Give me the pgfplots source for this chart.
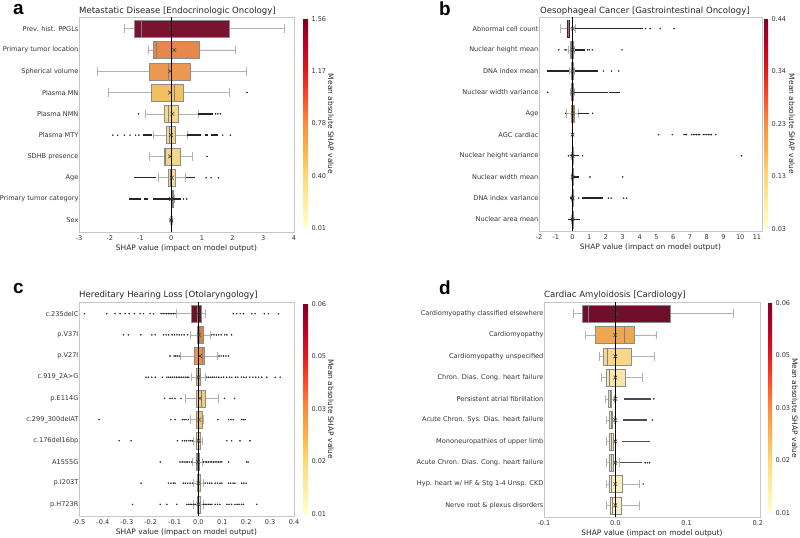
\documentclass[border=0pt]{standalone}
\usepackage{fontspec}
\setmainfont{DejaVu Sans}
\newfontfamily\letterfont{Liberation Sans}
\usepackage{pgfplots}
\pgfplotsset{compat=1.18}
\usepgfplotslibrary{statistics}

\definecolor{a1}{HTML}{7B1230}\definecolor{a2}{HTML}{E8874B}\definecolor{a3}{HTML}{EC9752}
\definecolor{a4}{HTML}{F1C063}\definecolor{a5}{HTML}{F5D88A}\definecolor{a6}{HTML}{F4D68A}
\definecolor{a7}{HTML}{F4D78C}\definecolor{a8}{HTML}{F5DA90}\definecolor{a9}{HTML}{F8E6A8}
\definecolor{a10}{HTML}{F9EDB8}
\definecolor{b1}{HTML}{7E2036}\definecolor{b2}{HTML}{D8CFB0}\definecolor{b3}{HTML}{DCD3B5}
\definecolor{b4}{HTML}{E2D8B8}\definecolor{b5}{HTML}{EBC766}\definecolor{b6}{HTML}{F5EEC8}
\definecolor{b7}{HTML}{F3E8C0}\definecolor{b8}{HTML}{F3E8C0}\definecolor{b9}{HTML}{F3EAC6}
\definecolor{b10}{HTML}{EFE4BC}
\definecolor{c1}{HTML}{6F1029}\definecolor{c2}{HTML}{E27E3D}\definecolor{c3}{HTML}{EC924B}
\definecolor{c4}{HTML}{E9B65C}\definecolor{c5}{HTML}{F2CD7C}\definecolor{c6}{HTML}{EEC466}
\definecolor{c7}{HTML}{EDD594}\definecolor{c8}{HTML}{E0D29C}\definecolor{c9}{HTML}{E6D8A2}
\definecolor{c10}{HTML}{EEE2B0}
\definecolor{d1}{HTML}{700F2B}\definecolor{d2}{HTML}{ECA850}\definecolor{d3}{HTML}{F6D78C}
\definecolor{d4}{HTML}{F8E6AC}\definecolor{d5}{HTML}{EEE3B6}\definecolor{d9}{HTML}{F8EFC2}
\definecolor{d10}{HTML}{F8F0C4}

\newcommand{\tickfont}{\fontsize{6.6}{7}\selectfont}
\newcommand{\labfont}{\fontsize{7.5}{8}\selectfont}

\pgfplotsset{
  colormap={ylorrd}{rgb255=(255,255,204) rgb255=(255,237,160) rgb255=(254,217,118) rgb255=(254,178,76) rgb255=(253,141,60) rgb255=(252,78,42) rgb255=(227,26,28) rgb255=(189,0,38) rgb255=(128,0,38)},
  shap/.style={
    scale only axis, anchor=south west,
    y dir=reverse, ymin=0.45, ymax=10.55, ytick={1,2,...,10},
    axis line style={draw=black!22, line width=0.7bp},
    tick style={draw=none},
    tick label style={font=\tickfont, text=black!80},
    yticklabel style={inner xsep=0.4bp},
    xlabel={SHAP value (impact on model output)},
    xlabel style={font=\labfont, text=black!85, yshift=3bp},
    boxplot/draw direction=x,
    boxplot/box extend=0.8,
    boxplot/whisker extend=0.4,
    boxplot/every whisker/.style={draw=black!30, line width=0.5bp},
    boxplot/every median/.style={draw=black!50, line width=0.6bp},
    boxplot/every box/.style={draw=black!45, line width=0.5bp},
    colorbar, colormap name=ylorrd, point meta min=0, point meta max=1,
  },
  cb/.style={scale only axis, anchor=south west,
    ytick={0,0.25,0.5,0.75,1},
    axis line style={draw=none}, tick style={draw=none},
    yticklabel style={font=\tickfont, text=black!80}},
  bx/.style={fill=#1},
  od/.style={only marks, mark=*, mark size=0.55bp, black!85, mark options={draw=none}},
  seg/.style={black!85, line width=1.4bp},
  mn/.style={only marks, mark=x, mark size=2.6bp, mark options={draw=black!75, line width=0.6bp}},
  zl/.style={black, line width=0.8bp},
}

\begin{document}
\begin{tikzpicture}
\useasboundingbox (0,0) rectangle (800bp,538bp);

%% ---------------- Panel a ----------------
\begin{axis}[shap, at={(79bp,306bp)}, width=215bp, height=215bp,
  xmin=-3, xmax=4, xtick={-3,...,4}, xticklabels={-3,-2,-1,0,1,2,3,4},
  yticklabels={Prev. hist. PPGLs,Primary tumor location,Spherical volume,Plasma MN,Plasma NMN,Plasma MTY,SDHB presence,Age,Primary tumor category,Sex},
  colorbar style={cb, width=5bp, height=209bp, at={(parent axis.south east)}, xshift=0.5bp, yshift=4bp,
    yticklabels={0.01,0.40,0.78,1.17,1.56}}]
\addplot[bx=a1, boxplot prepared={draw position=1, lower whisker=-1.52, lower quartile=-1.20, median=-0.97, upper quartile=1.88, upper whisker=3.69}] coordinates {};
\addplot[bx=a2, boxplot prepared={draw position=2, lower whisker=-0.76, lower quartile=-0.59, median=-0.49, upper quartile=0.93, upper whisker=2.10}] coordinates {};
\addplot[bx=a3, boxplot prepared={draw position=3, lower whisker=-2.40, lower quartile=-0.70, median=-0.09, upper quartile=0.63, upper whisker=2.44}] coordinates {};
\addplot[bx=a4, boxplot prepared={draw position=4, lower whisker=-2.05, lower quartile=-0.64, median=0.11, upper quartile=0.39, upper whisker=1.90}] coordinates {};
\addplot[bx=a5, boxplot prepared={draw position=5, lower whisker=-0.85, lower quartile=-0.21, median=-0.09, upper quartile=0.23, upper whisker=0.89}] coordinates {};
\addplot[bx=a6, boxplot prepared={draw position=6, lower whisker=-0.58, lower quartile=-0.16, median=-0.05, upper quartile=0.13, upper whisker=0.51}] coordinates {};
\addplot[bx=a7, boxplot prepared={draw position=7, lower whisker=-0.72, lower quartile=-0.23, median=-0.18, upper quartile=0.30, upper whisker=0.68}] coordinates {};
\addplot[bx=a8, boxplot prepared={draw position=8, lower whisker=-0.43, lower quartile=-0.10, median=-0.04, upper quartile=0.14, upper whisker=0.46}] coordinates {};
\addplot[bx=a9, boxplot prepared={draw position=9, lower whisker=0.00, lower quartile=0.03, median=0.05, upper quartile=0.07, upper whisker=0.09}] coordinates {};
\addplot[bx=a10, boxplot prepared={draw position=10, lower whisker=-0.02, lower quartile=-0.01, median=0.00, upper quartile=0.01, upper whisker=0.02}] coordinates {};
\addplot[seg] coordinates {(0.89,5) (1.35,5)};
\addplot[seg] coordinates {(-0.92,6) (-0.62,6)};
\addplot[seg] coordinates {(0.51,6) (0.98,6)};
\addplot[seg] coordinates {(1.09,6) (1.20,6)};
\addplot[seg] coordinates {(1.30,6) (1.52,6)};
\addplot[seg] coordinates {(-1.20,8) (-0.49,8)};
\addplot[seg] coordinates {(0.49,8) (0.78,8)};
\addplot[seg] coordinates {(-1.36,9) (-0.98,9)};
\addplot[seg] coordinates {(-0.87,9) (-0.74,9)};
\addplot[seg] coordinates {(-0.60,9) (0.33,9)};
\addplot[od] coordinates {(2.47,4) (-1.06,5) (1.45,5) (1.52,5) (1.60,5) (-1.90,6) (-1.74,6) (-1.52,6) (-1.34,6) (-1.16,6) (-1.05,6) (1.68,6) (1.93,6) (1.17,7) (1.14,8) (1.30,8) (1.54,8) (0.40,9) (0.51,9) (-0.03,10) (0.03,10)};
\addplot[mn] coordinates {(-0.03,1) (0.10,2) (-0.03,3) (-0.03,4) (0.04,5) (0.00,6) (-0.03,7) (0.02,8) (0.00,9) (0.00,10)};
\addplot[zl] coordinates {(0,0.45) (0,10.55)};
\end{axis}

%% ---------------- Panel b ----------------
\begin{axis}[shap, at={(539bp,307bp)}, width=223bp, height=214bp,
  xmin=-2, xmax=11.3, xtick={-2,...,11}, xticklabels={-2,-1,0,1,2,3,4,5,6,7,8,9,10,11},
  yticklabels={Abnormal cell count,Nuclear height mean,DNA index mean,Nuclear width variance,Age,AGC cardiac,Nuclear height variance,Nuclear width mean,DNA index variance,Nuclear area mean},
  colorbar style={cb, width=4bp, height=210bp, at={(parent axis.south east)}, xshift=-6.5bp, yshift=2bp,
    yticklabels={0.03,0.13,0.23,0.34,0.44}}]
\addplot[bx=b1, boxplot/every box/.style={draw=b1!70!black, line width=0.5bp}, boxplot prepared={draw position=1, lower whisker=-0.74, lower quartile=-0.32, median=-0.25, upper quartile=-0.18, upper whisker=0.15}] coordinates {};
\addplot[bx=b2, boxplot prepared={draw position=2, lower whisker=-0.28, lower quartile=-0.12, median=-0.05, upper quartile=0.02, upper whisker=0.12}] coordinates {};
\addplot[bx=b3, boxplot prepared={draw position=3, lower whisker=-0.20, lower quartile=-0.08, median=-0.03, upper quartile=0.03, upper whisker=0.12}] coordinates {};
\addplot[bx=b4, boxplot prepared={draw position=4, lower whisker=-0.12, lower quartile=-0.06, median=0.00, upper quartile=0.04, upper whisker=0.10}] coordinates {};
\addplot[bx=b5, boxplot/every box/.style={draw=b5!70!black, line width=0.5bp}, boxplot prepared={draw position=5, lower whisker=-0.36, lower quartile=-0.05, median=0.02, upper quartile=0.09, upper whisker=0.34}] coordinates {};
\addplot[bx=b6, boxplot prepared={draw position=6, lower whisker=-0.01, lower quartile=0.00, median=0.00, upper quartile=0.00, upper whisker=0.01}] coordinates {};
\addplot[bx=b7, boxplot prepared={draw position=7, lower whisker=-0.05, lower quartile=-0.02, median=0.00, upper quartile=0.02, upper whisker=0.05}] coordinates {};
\addplot[bx=b8, boxplot prepared={draw position=8, lower whisker=-0.05, lower quartile=-0.02, median=0.00, upper quartile=0.02, upper whisker=0.05}] coordinates {};
\addplot[bx=b9, boxplot prepared={draw position=9, lower whisker=-0.05, lower quartile=-0.02, median=0.00, upper quartile=0.02, upper whisker=0.05}] coordinates {};
\addplot[bx=b10, boxplot prepared={draw position=10, lower whisker=-0.05, lower quartile=-0.02, median=0.00, upper quartile=0.02, upper whisker=0.05}] coordinates {};
\addplot[seg] coordinates {(0.15,1) (4.20,1)};
\addplot[seg] coordinates {(0.12,2) (0.76,2)};
\addplot[seg] coordinates {(-1.55,3) (-0.20,3)};
\addplot[seg] coordinates {(0.12,3) (1.50,3)};
\addplot[seg] coordinates {(0.10,4) (2.12,4)};
\addplot[seg] coordinates {(2.20,4) (2.85,4)};
\addplot[seg] coordinates {(0.34,5) (0.96,5)};
\addplot[seg] coordinates {(-0.15,7) (0.40,7)};
\addplot[seg] coordinates {(-0.05,8) (0.40,8)};
\addplot[seg] coordinates {(-0.14,9) (0.10,9)};
\addplot[seg] coordinates {(0.56,9) (1.80,9)};
\addplot[seg] coordinates {(-0.30,10) (0.45,10)};
\addplot[od] coordinates {(4.35,1) (4.63,1) (5.23,1) (6.05,1) (-0.82,2) (-0.45,2) (-0.38,2) (0.90,2) (1.00,2) (1.18,2) (2.95,2) (1.84,3) (2.33,3) (2.75,3) (-1.48,4) (-0.42,5) (1.20,5)
 (5.13,6) (5.95,6) (6.65,6) (6.72,6) (6.80,6) (7.10,6) (7.20,6) (7.30,6) (7.40,6) (7.50,6) (7.58,6) (7.80,6) (7.90,6) (8.00,6) (8.10,6) (8.20,6) (8.28,6) (8.54,6)
 (-0.24,7) (0.60,7) (10.08,7) (1.04,8) (2.99,8) (0.36,9) (2.14,9) (2.30,9) (3.05,9) (3.23,9)};
\addplot[mn] coordinates {(0.02,1) (0.00,2) (0.00,3) (0.00,4) (0.02,5) (0.00,6) (0.00,7) (0.00,8) (0.00,9) (0.00,10)};
\addplot[zl] coordinates {(0,0.45) (0,10.55)};
\end{axis}

%% ---------------- Panel c ----------------
\begin{axis}[shap, at={(79bp,22bp)}, width=215bp, height=214bp,
  xmin=-0.5, xmax=0.4, xtick={-0.5,-0.4,-0.3,-0.2,-0.1,0,0.1,0.2,0.3,0.4},
  xticklabels={-0.5,-0.4,-0.3,-0.2,-0.1,0.0,0.1,0.2,0.3,0.4},
  yticklabels={c.235delC,p.V37I,p.V27I,c.919\_2A>G,p.E114G,c.299\_300delAT,c.176del16bp,A1555G,p.I203T,p.H723R},
  colorbar style={cb, width=5bp, height=210bp, at={(parent axis.south east)}, xshift=0.5bp, yshift=2bp,
    yticklabels={0.01,0.02,0.03,0.05,0.06}}]
\addplot[bx=c1, boxplot prepared={draw position=1, lower whisker=-0.091, lower quartile=-0.032, median=-0.005, upper quartile=0.010, upper whisker=0.028}] coordinates {};
\addplot[bx=c2, boxplot prepared={draw position=2, lower whisker=-0.035, lower quartile=-0.004, median=0.003, upper quartile=0.020, upper whisker=0.049}] coordinates {};
\addplot[bx=c3, boxplot prepared={draw position=3, lower whisker=-0.075, lower quartile=-0.017, median=0.018, upper quartile=0.026, upper whisker=0.077}] coordinates {};
\addplot[bx=c4, boxplot prepared={draw position=4, lower whisker=-0.031, lower quartile=-0.010, median=0.000, upper quartile=0.007, upper whisker=0.028}] coordinates {};
\addplot[bx=c5, boxplot prepared={draw position=5, lower whisker=-0.056, lower quartile=-0.011, median=0.010, upper quartile=0.028, upper whisker=0.081}] coordinates {};
\addplot[bx=c6, boxplot prepared={draw position=6, lower whisker=-0.035, lower quartile=-0.008, median=0.000, upper quartile=0.014, upper whisker=0.020}] coordinates {};
\addplot[bx=c7, boxplot prepared={draw position=7, lower whisker=-0.021, lower quartile=-0.008, median=0.000, upper quartile=0.008, upper whisker=0.014}] coordinates {};
\addplot[bx=c8, boxplot prepared={draw position=8, lower whisker=-0.024, lower quartile=-0.010, median=-0.003, upper quartile=0.003, upper whisker=0.017}] coordinates {};
\addplot[bx=c9, boxplot prepared={draw position=9, lower whisker=-0.021, lower quartile=-0.006, median=0.000, upper quartile=0.006, upper whisker=0.021}] coordinates {};
\addplot[bx=c10, boxplot prepared={draw position=10, lower whisker=-0.021, lower quartile=-0.004, median=0.000, upper quartile=0.006, upper whisker=0.021}] coordinates {};
\addplot[od] coordinates {
 (-0.477,1) (-0.384,1) (-0.349,1) (-0.328,1) (-0.307,1) (-0.290,1) (-0.268,1) (-0.244,1) (-0.230,1) (-0.202,1) (-0.188,1)
 (-0.156,1) (-0.148,1) (-0.140,1) (-0.133,1) (-0.126,1) (-0.119,1) (-0.112,1) (-0.105,1) (-0.098,1)
 (0.146,1) (0.160,1) (0.175,1) (0.188,1) (0.223,1) (0.237,1) (0.276,1) (0.293,1) (0.335,1)
 (-0.314,2) (-0.293,2) (-0.241,2) (-0.195,2) (-0.181,2) (-0.146,2) (-0.135,2) (-0.125,2) (-0.110,2) (-0.100,2) (-0.090,2) (-0.080,2) (-0.070,2) (-0.060,2) (-0.045,2)
 (0.056,2) (0.065,2) (0.075,2) (0.085,2) (0.095,2) (0.110,2) (0.119,2) (0.139,2)
 (-0.119,3) (-0.102,3) (-0.095,3) (-0.088,3) (-0.080,3) (0.086,3) (0.095,3) (0.105,3) (0.115,3) (0.126,3)
 (-0.220,4) (-0.210,4) (-0.195,4) (-0.181,4) (-0.151,4) (-0.132,4) (-0.124,4) (-0.116,4) (-0.108,4) (-0.100,4) (-0.092,4) (-0.085,4) (-0.078,4) (-0.070,4) (-0.062,4) (-0.055,4) (-0.047,4) (-0.040,4)
 (0.035,4) (0.043,4) (0.050,4) (0.058,4) (0.066,4) (0.075,4) (0.085,4) (0.095,4) (0.105,4) (0.118,4) (0.130,4) (0.140,4) (0.155,4) (0.165,4) (0.180,4) (0.190,4) (0.200,4) (0.215,4) (0.228,4) (0.240,4) (0.252,4) (0.265,4) (0.286,4) (0.321,4) (0.342,4)
 (-0.142,5) (-0.119,5) (-0.110,5) (-0.098,5) (-0.073,5) (0.109,5) (0.151,5)
 (-0.416,6) (-0.116,6) (-0.098,6) (-0.067,6) (-0.060,6) (-0.052,6) (-0.042,6) (0.081,6) (0.126,6) (0.136,6) (0.146,6) (0.181,6) (0.188,6) (0.195,6)
 (-0.332,7) (-0.282,7) (-0.088,7) (-0.067,7) (-0.058,7) (-0.050,7) (-0.040,7) (-0.032,7) (-0.025,7) (0.119,7) (0.139,7) (0.174,7) (0.216,7)
 (-0.160,8) (-0.077,8) (-0.068,8) (-0.060,8) (-0.052,8) (-0.045,8) (-0.038,8) (-0.028,8) (0.021,8) (0.028,8) (0.035,8) (0.042,8) (0.049,8) (0.056,8) (0.063,8) (0.070,8) (0.077,8) (0.084,8) (0.091,8) (0.098,8) (0.126,8) (0.202,8) (0.208,8)
 (-0.240,9) (-0.126,9) (-0.115,9) (-0.105,9) (-0.098,9) (-0.063,9) (-0.055,9) (-0.045,9) (-0.035,9) (-0.025,9) (0.028,9) (0.038,9) (0.047,9) (0.056,9) (0.070,9) (0.080,9) (0.090,9) (0.098,9) (0.126,9) (0.135,9) (0.145,9) (0.153,9) (0.181,9) (0.190,9) (0.200,9)
 (-0.276,10) (-0.160,10) (-0.132,10) (-0.091,10) (-0.049,10) (-0.042,10) (-0.035,10) (-0.028,10) (-0.021,10) (-0.014,10) (0.021,10) (0.028,10) (0.035,10) (0.042,10) (0.049,10) (0.056,10) (0.070,10) (0.080,10) (0.090,10) (0.119,10) (0.128,10) (0.139,10) (0.153,10) (0.162,10) (0.170,10) (0.180,10) (0.188,10) (0.244,10)};
\addplot[mn] coordinates {(-0.004,1) (0.002,2) (0.006,3) (0.000,4) (0.006,5) (0.003,6) (0.000,7) (-0.002,8) (0.000,9) (0.000,10)};
\addplot[zl] coordinates {(0,0.45) (0,10.55)};
\end{axis}

%% ---------------- Panel d ----------------
\begin{axis}[shap, at={(544bp,21bp)}, width=216bp, height=215bp,
  xmin=-0.1, xmax=0.203, xtick={-0.1,0,0.1,0.2}, xticklabels={-0.1,0.0,0.1,0.2},
  yticklabels={Cardiomyopathy classified elsewhere,Cardiomyopathy,Cardiomyopathy unspecified,Chron. Dias. Cong. heart failure,Persistent atrial fibrillation,Acute Chron. Sys. Dias. heart failure,Mononeuropathies of upper limb,Acute Chron. Dias. Cong. heart failure,Hyp. heart w/ HF \& Stg 1-4 Unsp. CKD,Nerve root \& plexus disorders},
  colorbar style={cb, width=4bp, height=210bp, at={(parent axis.south east)}, xshift=-0.5bp, yshift=4bp,
    yticklabels={0.01,0.02,0.03,0.05,0.06}}]
\addplot[bx=d1, boxplot prepared={draw position=1, lower whisker=-0.059, lower quartile=-0.046, median=-0.038, upper quartile=0.077, upper whisker=0.166}] coordinates {};
\addplot[bx=d2, boxplot prepared={draw position=2, lower whisker=-0.042, lower quartile=-0.028, median=0.013, upper quartile=0.027, upper whisker=0.057}] coordinates {};
\addplot[bx=d3, boxplot prepared={draw position=3, lower whisker=-0.023, lower quartile=-0.017, median=-0.011, upper quartile=0.022, upper whisker=0.054}] coordinates {};
\addplot[bx=d4, boxplot prepared={draw position=4, lower whisker=-0.020, lower quartile=-0.012, median=-0.008, upper quartile=0.014, upper whisker=0.038}] coordinates {};
\addplot[bx=d5, boxplot prepared={draw position=5, lower whisker=-0.014, lower quartile=-0.010, median=-0.007, upper quartile=-0.005, upper whisker=-0.002}] coordinates {};
\addplot[bx=d5, boxplot prepared={draw position=6, lower whisker=-0.012, lower quartile=-0.008, median=-0.006, upper quartile=-0.004, upper whisker=-0.001}] coordinates {};
\addplot[bx=d5, boxplot prepared={draw position=7, lower whisker=-0.012, lower quartile=-0.008, median=-0.006, upper quartile=-0.003, upper whisker=0.000}] coordinates {};
\addplot[bx=d5, boxplot prepared={draw position=8, lower whisker=-0.013, lower quartile=-0.009, median=-0.006, upper quartile=-0.003, upper whisker=0.005}] coordinates {};
\addplot[bx=d9, boxplot prepared={draw position=9, lower whisker=-0.013, lower quartile=-0.008, median=-0.005, upper quartile=0.010, upper whisker=0.034}] coordinates {};
\addplot[bx=d10, boxplot prepared={draw position=10, lower whisker=-0.013, lower quartile=-0.007, median=-0.004, upper quartile=0.009, upper whisker=0.033}] coordinates {};
\addplot[seg, black!70] coordinates {(0.012,5) (0.050,5)};
\addplot[seg, black!70] coordinates {(0.011,6) (0.045,6)};
\addplot[seg, black!70] coordinates {(0.009,7) (0.048,7)};
\addplot[seg, black!70] coordinates {(0.007,8) (0.038,8)};
\addplot[od] coordinates {(0.054,5) (0.052,6) (0.042,8) (0.045,8) (0.048,8) (0.039,9)};
\addplot[mn] coordinates {(0.003,1) (0.000,2) (0.000,3) (0.000,4) (0.000,5) (0.000,6) (0.000,7) (0.000,8) (0.000,9) (0.000,10)};
\addplot[zl] coordinates {(0,0.45) (0,10.55)};
\end{axis}

%% titles, colorbar labels and panel letters
\begin{scope}[every node/.style={inner sep=0, anchor=base west, text=black!85, font=\fontsize{8.6}{10}\selectfont}]
\node at (79bp,524bp) {Metastatic Disease [Endocrinologic Oncology]};
\node at (540bp,524bp) {Oesophageal Cancer [Gastrointestinal Oncology]};
\node at (79bp,240bp) {Hereditary Hearing Loss [Otolaryngology]};
\node at (544bp,240bp) {Cardiac Amyloidosis [Cardiology]};
\end{scope}
\begin{scope}[every node/.style={inner sep=0, anchor=center, rotate=-90, text=black!85, font=\labfont}]
\node at (331bp,414bp) {Mean absolute SHAP value};
\node at (792bp,414bp) {Mean absolute SHAP value};
\node at (331bp,129bp) {Mean absolute SHAP value};
\node at (795bp,130bp) {Mean absolute SHAP value};
\end{scope}
\begin{scope}[every node/.style={inner sep=0, anchor=base west, font=\letterfont\bfseries\fontsize{19}{20}\selectfont}]
\node at (13bp,523bp) {a};
\node at (439bp,522bp) {b};
\node at (13bp,244bp) {c};
\node at (439bp,243bp) {d};
\end{scope}
\end{tikzpicture}
\end{document}
